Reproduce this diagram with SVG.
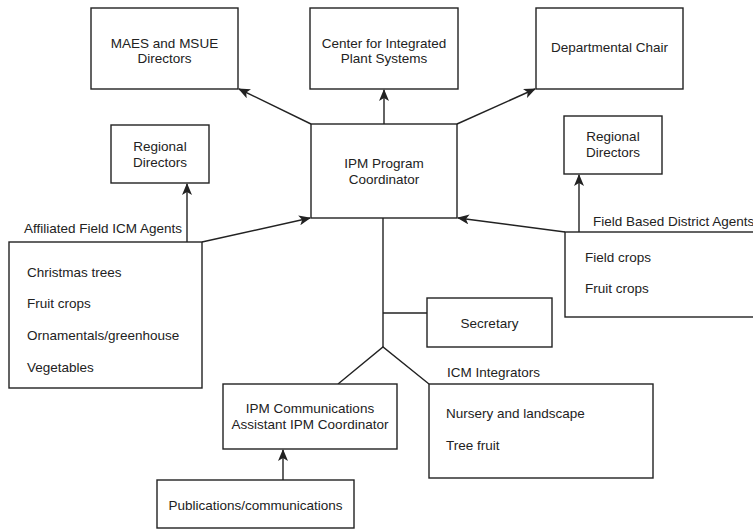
<svg xmlns="http://www.w3.org/2000/svg" width="753" height="530" viewBox="0 0 753 530">
<defs>
<style>
rect{fill:#fff;stroke:#222;stroke-width:1.4}
text{font-family:"Liberation Sans",Arial,sans-serif;font-size:13.5px;fill:#222}
.c{text-anchor:middle}
.ln{stroke:#222;stroke-width:1.4;fill:none}
</style>
<marker id="ah" markerWidth="12" markerHeight="10" refX="11" refY="5" orient="auto" markerUnits="userSpaceOnUse">
<path d="M0,0 L12,5 L0,10 L3,5 Z" fill="#222"/>
</marker>
</defs>
<rect x="0" y="0" width="753" height="530" style="fill:#fff;stroke:none"/>
<g id="connectors">
<line class="ln" x1="311" y1="124" x2="239" y2="89" marker-end="url(#ah)"/>
<line class="ln" x1="384" y1="124" x2="384" y2="90" marker-end="url(#ah)"/>
<line class="ln" x1="457" y1="124" x2="535" y2="89" marker-end="url(#ah)"/>
<line class="ln" x1="187" y1="242" x2="187" y2="184" marker-end="url(#ah)"/>
<line class="ln" x1="202" y1="242" x2="310" y2="218" marker-end="url(#ah)"/>
<line class="ln" x1="579" y1="232" x2="579" y2="175" marker-end="url(#ah)"/>
<line class="ln" x1="565" y1="232" x2="458" y2="218" marker-end="url(#ah)"/>
<line class="ln" x1="383" y1="218" x2="383" y2="347"/>
<line class="ln" x1="383" y1="313" x2="427" y2="313"/>
<polyline class="ln" points="338,384 383,347 429,384"/>
<line class="ln" x1="283" y1="480" x2="283" y2="450" marker-end="url(#ah)"/>
</g>
<g id="maes"><rect x="91" y="8" width="147" height="81"/><text class="c" x="164.5" y="48">MAES and MSUE</text><text class="c" x="164.5" y="63">Directors</text></g>
<g id="cips"><rect x="310" y="8" width="148" height="81"/><text class="c" x="384" y="48">Center for Integrated</text><text class="c" x="384" y="63">Plant Systems</text></g>
<g id="chair"><rect x="536" y="8" width="147" height="81"/><text class="c" x="609.5" y="52">Departmental Chair</text></g>
<g id="coord"><rect x="311" y="124" width="146" height="94"/><text class="c" x="384" y="168">IPM Program</text><text class="c" x="384" y="184">Coordinator</text></g>
<g id="regional-left"><rect x="111" y="125" width="98" height="58"/><text class="c" x="160" y="151">Regional</text><text class="c" x="160" y="167">Directors</text></g>
<g id="regional-right"><rect x="564" y="116" width="98" height="58"/><text class="c" x="613" y="141">Regional</text><text class="c" x="613" y="157">Directors</text></g>
<g id="affiliated"><text x="24" y="233">Affiliated Field ICM Agents</text><rect x="9" y="242" width="193" height="146"/><text x="27" y="277">Christmas trees</text><text x="27" y="308">Fruit crops</text><text x="27" y="340">Ornamentals/greenhouse</text><text x="27" y="372">Vegetables</text></g>
<g id="district"><text x="593" y="226">Field Based District Agents</text><rect x="565" y="232" width="195" height="85"/><text x="585" y="262">Field crops</text><text x="585" y="293">Fruit crops</text></g>
<g id="secretary"><rect x="427" y="298" width="125" height="49"/><text class="c" x="489.5" y="328">Secretary</text></g>
<g id="integrators"><text x="447" y="377">ICM Integrators</text><rect x="429" y="384" width="224" height="94"/><text x="446" y="418">Nursery and landscape</text><text x="446" y="450">Tree fruit</text></g>
<g id="comm"><rect x="223" y="384" width="174" height="65"/><text class="c" x="310" y="413">IPM Communications</text><text class="c" x="310" y="429">Assistant IPM Coordinator</text></g>
<g id="pubs"><rect x="157" y="480" width="197" height="48"/><text class="c" x="255.5" y="510">Publications/communications</text></g>
</svg>
